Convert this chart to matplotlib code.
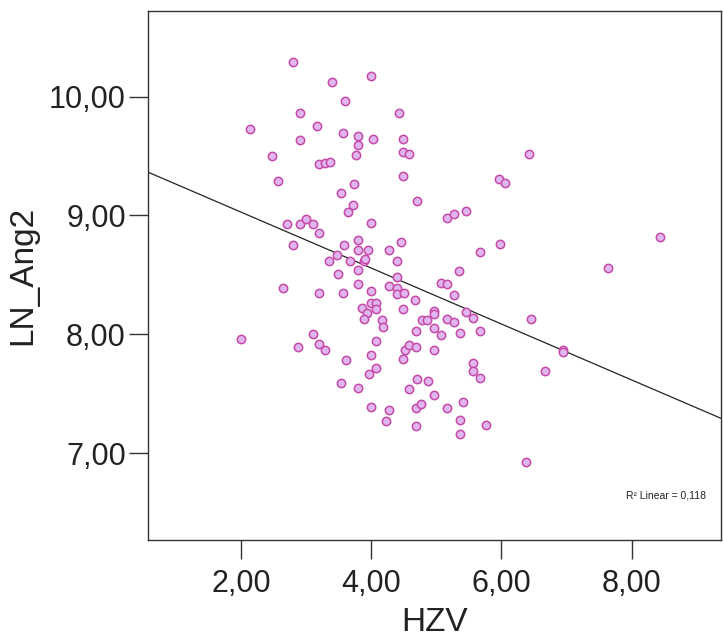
import numpy as np
import matplotlib
matplotlib.use("Agg")
import matplotlib.pyplot as plt

plt.rcParams["font.family"] = ["Liberation Sans", "DejaVu Sans"]

# HZV vs LN_Ang2
hzv = [2.80, 3.39, 3.99, 3.59, 2.90, 2.13, 3.17, 3.56, 3.79, 4.03,
       2.90, 3.79, 2.48, 3.77, 3.19, 3.29, 3.36, 2.57, 3.74, 3.54,
       4.43, 4.48, 4.48, 4.58, 4.48, 5.96, 6.06, 4.71, 6.43, 5.97,
       8.43, 7.64, 3.72, 3.64, 2.70, 2.90, 3.00, 3.10, 3.99, 3.19,
       2.80, 3.58, 3.79, 3.79, 3.95, 3.48, 3.35, 3.67, 3.89, 3.91,
       3.79, 3.49, 2.64, 3.19, 3.57, 3.79, 3.99, 3.99, 4.08, 4.08,
       3.85, 3.93, 3.89, 2.00, 3.11, 4.08, 5.17, 5.27, 5.46, 4.46,
       4.28, 4.39, 5.67, 5.35, 4.39, 5.07, 5.16, 4.28, 4.39, 4.39,
       4.51, 5.27, 4.67, 4.48, 4.97, 4.97, 5.46, 5.57, 4.78, 4.86,
       5.17, 5.27, 4.16, 4.18, 4.97, 4.68, 5.67, 5.07, 5.36, 2.88,
       3.19, 3.29, 3.61, 3.99, 4.08, 3.96, 3.53, 3.79, 3.99, 4.52,
       4.58, 4.68, 4.97, 4.48, 5.57, 5.57, 5.67, 4.71, 4.87, 4.58,
       4.97, 4.28, 4.68, 4.77, 5.17, 5.41, 4.23, 4.68, 5.36, 5.37,
       5.76, 6.45, 6.95, 6.95, 6.67, 6.38]
ln_ang2 = [10.29, 10.12, 10.17, 9.96, 9.86, 9.73, 9.75, 9.69, 9.67, 9.64,
           9.63, 9.59, 9.50, 9.51, 9.43, 9.44, 9.45, 9.29, 9.26, 9.19,
           9.86, 9.64, 9.53, 9.52, 9.33, 9.31, 9.27, 9.12, 9.52, 8.76,
           8.82, 8.56, 9.09, 9.03, 8.93, 8.93, 8.97, 8.93, 8.94, 8.85,
           8.75, 8.75, 8.79, 8.71, 8.71, 8.67, 8.62, 8.62, 8.62, 8.63,
           8.54, 8.51, 8.39, 8.35, 8.35, 8.42, 8.36, 8.26, 8.26, 8.21,
           8.22, 8.18, 8.13, 7.96, 8.00, 7.94, 8.98, 9.01, 9.04, 8.78,
           8.71, 8.62, 8.69, 8.53, 8.48, 8.43, 8.42, 8.41, 8.39, 8.34,
           8.35, 8.33, 8.29, 8.21, 8.20, 8.17, 8.19, 8.14, 8.12, 8.12,
           8.13, 8.10, 8.12, 8.06, 8.05, 8.03, 8.03, 7.99, 8.01, 7.89,
           7.92, 7.87, 7.78, 7.83, 7.72, 7.67, 7.59, 7.55, 7.39, 7.87,
           7.91, 7.89, 7.87, 7.79, 7.76, 7.69, 7.63, 7.62, 7.61, 7.54,
           7.49, 7.36, 7.38, 7.41, 7.38, 7.43, 7.27, 7.23, 7.28, 7.16,
           7.24, 8.13, 7.87, 7.85, 7.69, 6.93]

x_ticks = [2, 4, 6, 8]
y_ticks = [7, 8, 9, 10]
r2_label = "R² Linear = 0,118"

x = np.array(hzv)
y = np.array(ln_ang2)
slope, intercept = np.polyfit(x, y, 1)

fig = plt.figure(figsize=(7.23, 6.41), dpi=100)
ax = fig.add_axes([0.2047, 0.1576, 0.7923, 0.8254])

ax.scatter(x, y, s=36, facecolor="#dfb6ef", edgecolor="#c64aa8",
           linewidths=1.1, zorder=3)

xlim = (0.57, 9.37)
xs = np.array(xlim)
ax.plot(xs, intercept + slope * xs, color="#222222", lw=0.9, zorder=2)

ax.set_xlim(*xlim)
ax.set_ylim(6.27, 10.72)
ax.set_xticks(x_ticks)
ax.set_yticks(y_ticks)
ax.set_xticklabels([("%.2f" % v).replace(".", ",") for v in x_ticks])
ax.set_yticklabels([("%.2f" % v).replace(".", ",") for v in y_ticks])
ax.tick_params(direction="out", length=14, width=1, color="#333333",
               labelsize=22, labelcolor="#222222")
ax.tick_params(axis="x", pad=7)
ax.tick_params(axis="y", pad=2)
ax.tick_params(top=False, right=False)
for s in ax.spines.values():
    s.set_color("#333333")
    s.set_linewidth(1.0)

ax.set_xlabel("HZV", fontsize=24, color="#222222", labelpad=6)
ax.set_ylabel("LN_Ang2", fontsize=24, color="#222222", labelpad=8)

ax.text(0.905, 0.085, r2_label, transform=ax.transAxes, fontsize=7.5,
        ha="center", va="center", color="#222222")

fig.savefig("out.png", dpi=100)
plt.close("all")
